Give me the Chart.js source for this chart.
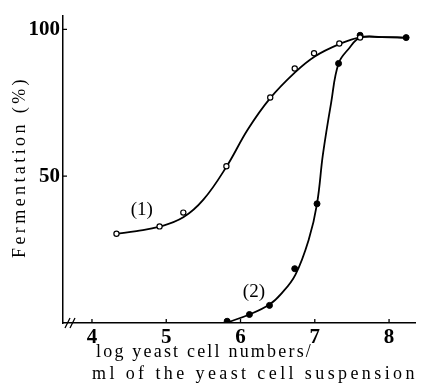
<!DOCTYPE html>
<html>
<head>
<meta charset="utf-8">
<script src="https://cdn.jsdelivr.net/npm/chart.js@4"></script>
<style>
  html, body { margin: 0; padding: 0; background: #fff; }
</style>
</head>
<body>
<canvas id="fermentChart" width="421" height="391"></canvas>
<script>
// curve (1): open circles
const markX1 = [4.33, 4.91, 5.23, 5.81, 6.40, 6.73, 6.99, 7.33, 7.61];
const markY1 = [30.4, 32.9, 37.6, 53.4, 76.8, 86.7, 91.9, 95.2, 97.2];
// curve (2): filled circles
const markX2 = [5.82, 6.12, 6.39, 6.73, 7.03, 7.32, 7.61, 8.23];
const markY2 = [0.6, 2.9, 6.0, 18.5, 40.6, 88.4, 98.0, 97.2];

// hand drawn fitted curves
const lineX1 = [4.33, 4.6, 4.91, 5.23, 5.5, 5.81, 6.1, 6.4, 6.73, 7.0, 7.33, 7.61, 7.9, 8.23];
const lineY1 = [30.4, 31.3, 32.8, 36.0, 42.0, 53.2, 66.0, 76.6, 85.3, 90.8, 95.0, 97.3, 97.4, 97.2];
const lineX2 = [5.80, 6.12, 6.39, 6.55, 6.74, 6.92, 7.03, 7.11, 7.22, 7.32, 7.46, 7.61, 7.9, 8.23];
const lineY2 = [0.0, 2.9, 6.3, 10.0, 16.5, 28.5, 40.6, 57.5, 75.0, 88.4, 93.5, 97.2, 97.4, 97.2];

const xTicks = [4, 5, 6, 7, 8];
const yTicks = [50, 100];
const yTitle = "Fermentation (%)";
const xTitleLines = ["log yeast cell numbers/", "ml of the yeast cell suspension"];
const curveNames = ["(1)", "(2)"];
const curveNameX = [4.67, 6.18];
const curveNameY = [38.6, 10.7];

const serif = '"Liberation Serif", "DejaVu Serif", serif';

function toXY(xs, ys) {
  return xs.map((x, i) => ({ x: x, y: ys[i] }));
}

// titles, inward ticks, axis break and curve labels
const extras = {
  id: "extras",
  afterDraw(chart) {
    const ctx = chart.ctx;
    const area = chart.chartArea;
    const sx = chart.scales.x;
    const sy = chart.scales.y;
    ctx.save();
    ctx.strokeStyle = "#000";
    ctx.fillStyle = "#000";
    ctx.lineWidth = 1.3;

    ctx.beginPath();
    xTicks.forEach((v) => {
      const px = sx.getPixelForValue(v);
      ctx.moveTo(px, area.bottom);
      ctx.lineTo(px, area.bottom - 4);
    });
    yTicks.forEach((v) => {
      const py = sy.getPixelForValue(v);
      ctx.moveTo(area.left, py);
      ctx.lineTo(area.left + 4, py);
    });
    // the "//" break on the x axis
    ctx.moveTo(area.left + 2, area.bottom + 5);
    ctx.lineTo(area.left + 7, area.bottom - 5);
    ctx.moveTo(area.left + 7, area.bottom + 5);
    ctx.lineTo(area.left + 12, area.bottom - 5);
    ctx.stroke();

    ctx.textBaseline = "middle";
    ctx.font = "19px " + serif;
    ctx.textAlign = "center";
    curveNames.forEach((t, i) => {
      ctx.fillText(t, sx.getPixelForValue(curveNameX[i]), sy.getPixelForValue(curveNameY[i]));
    });

    ctx.font = "18px " + serif;
    ctx.textAlign = "left";
    ctx.letterSpacing = "2.2px";
    ctx.fillText(xTitleLines[0], 96, 352);
    ctx.letterSpacing = "3.4px";
    ctx.fillText(xTitleLines[1], 92, 374);

    ctx.letterSpacing = "3.4px";
    ctx.translate(20, 167);
    ctx.rotate(-Math.PI / 2);
    ctx.textAlign = "center";
    ctx.fillText(yTitle, 0, 0);
    ctx.restore();
  },
};

const ctx = document.getElementById("fermentChart").getContext("2d");
new Chart(ctx, {
  type: "scatter",
  data: {
    datasets: [
      {
        label: "(1) points",
        data: toXY(markX1, markY1),
        showLine: false,
        pointRadius: 2.6,
        pointBackgroundColor: "#fff",
        pointBorderColor: "#000",
        pointBorderWidth: 1.2,
      },
      {
        label: "(2) points",
        data: toXY(markX2, markY2),
        showLine: false,
        pointRadius: 3,
        pointBackgroundColor: "#000",
        pointBorderColor: "#000",
        pointBorderWidth: 1,
      },
      {
        label: "(1)",
        data: toXY(lineX1, lineY1),
        showLine: true,
        borderColor: "#000",
        borderWidth: 1.8,
        pointRadius: 0,
        tension: 0.4,
      },
      {
        label: "(2)",
        data: toXY(lineX2, lineY2),
        showLine: true,
        borderColor: "#000",
        borderWidth: 1.8,
        pointRadius: 0,
        tension: 0.4,
      },
    ],
  },
  options: {
    responsive: false,
    animation: false,
    layout: { padding: { top: 12, right: 3 } },
    plugins: {
      legend: { display: false },
      tooltip: { enabled: false },
    },
    scales: {
      x: {
        type: "linear",
        min: 3.61,
        max: 8.36,
        afterBuildTicks: (s) => {
          s.ticks = xTicks.map((v) => ({ value: v }));
        },
        afterFit: (s) => {
          s.height = 68;
        },
        grid: { display: false, drawTicks: false },
        border: { color: "#000", width: 1.5 },
        ticks: {
          color: "#000",
          padding: 2,
          font: { family: serif, size: 21, weight: "bold" },
        },
      },
      y: {
        min: 0,
        max: 104.7,
        afterBuildTicks: (s) => {
          s.ticks = yTicks.map((v) => ({ value: v }));
        },
        afterFit: (s) => {
          s.width = 63;
        },
        grid: { display: false, drawTicks: false },
        border: { color: "#000", width: 1.5 },
        ticks: {
          color: "#000",
          padding: 3,
          font: { family: serif, size: 21, weight: "bold" },
        },
      },
    },
  },
  plugins: [extras],
});
</script>
</body>
</html>
